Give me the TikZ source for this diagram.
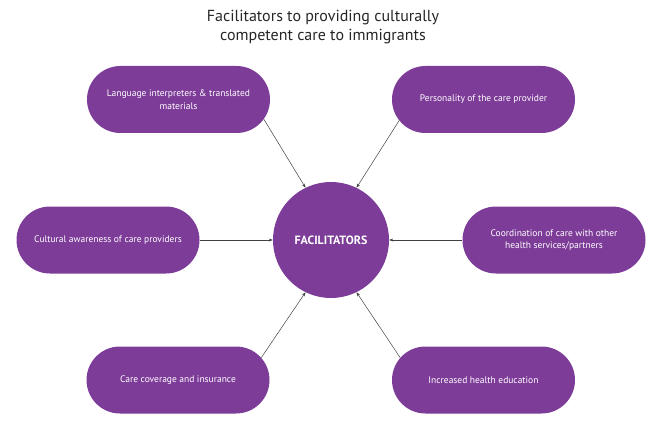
\documentclass[tikz,border=0pt]{standalone}
\usepackage{fontspec}
\setmainfont{PT Sans}
\usetikzlibrary{shapes.misc,arrows.meta}
\definecolor{pill}{HTML}{7D3C98}
\begin{document}
\begin{tikzpicture}[x=1pt,y=1pt,
  pillbox/.style={rounded rectangle, fill=pill, text=white, minimum width=183pt, minimum height=67pt, inner sep=0pt, align=center, font=\fontsize{9.5}{12.5}\selectfont},
  hub/.style={circle, fill=pill, text=white, minimum size=116pt, inner sep=0pt, font=\fontsize{12}{14}\selectfont\bfseries},
  conn/.style={draw=black!75, line width=0.5pt, -{Stealth[length=4pt,width=3pt]}}]
\useasboundingbox (0,0) rectangle (671,429);
\node[align=center, font=\fontsize{16}{19}\selectfont, text=black!85] (title) at (323,402) {Facilitators to providing culturally\\competent care to immigrants};
\node[hub] (c) at (331,189) {FACILITATORS};
\node[pillbox] (tl) at (178.5,329.5) {Language interpreters \& translated\\materials};
\node[pillbox] (tr) at (483.5,329.5) {Personality of the care provider};
\node[pillbox] (ml) at (108,189) {Cultural awareness of care providers};
\node[pillbox] (mr) at (554,189) {Coordination of care with other\\health services/partners};
\node[pillbox] (bl) at (178,49) {Care coverage and insurance};
\node[pillbox] (br) at (483.5,49) {Increased health education};
\draw[conn] (tl.-13.6) -- (c.116);
\draw[conn] (tr.194) -- (c.64);
\draw[conn] (ml.east) -- (c.west);
\draw[conn] (mr.west) -- (c.east);
\draw[conn] (bl.15) -- (c.244);
\draw[conn] (br.165) -- (c.296);
\end{tikzpicture}
\end{document}
